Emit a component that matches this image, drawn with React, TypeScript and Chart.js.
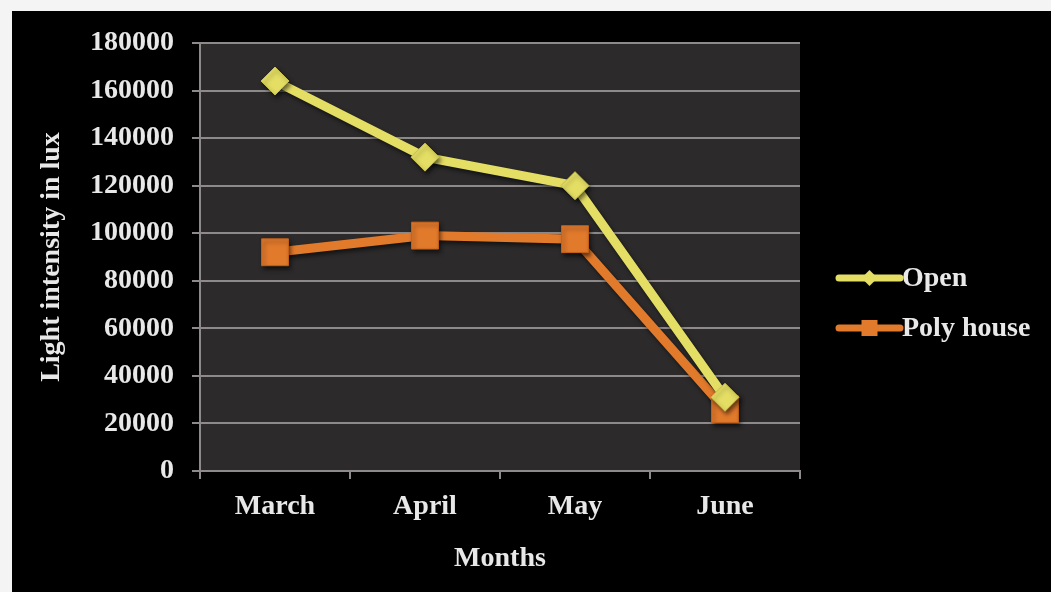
import React, { useEffect, useRef } from "react";
import { Chart, registerables } from "chart.js";

Chart.register(...registerables);

const months = ["March", "April", "May", "June"];
const openLux = [164000, 132000, 120000, 31000];
const polyHouseLux = [92000, 99000, 97500, 26000];
const yTicks = [0, 20000, 40000, 60000, 80000, 100000, 120000, 140000, 160000, 180000];

const OPEN_COLOR = "#e4de64";
const POLY_COLOR = "#e27a2c";
const TEXT_COLOR = "#e8e8e8";
const GRID_COLOR = "#8e8a8a";
const FONT_FAMILY = "'Liberation Serif', 'Times New Roman', serif";

// Dark panel behind the plotting area
const plotBackground = {
  id: "plotBackground",
  beforeDraw(chart: any) {
    const { ctx, chartArea } = chart;
    ctx.save();
    ctx.fillStyle = "#2c2a2a";
    ctx.fillRect(chartArea.left, chartArea.top, chartArea.right - chartArea.left, chartArea.bottom - chartArea.top);
    ctx.restore();
  },
};

// Soft drop shadow under the lines and markers
const markerShadow = {
  id: "markerShadow",
  beforeDatasetsDraw(chart: any) {
    const ctx = chart.ctx;
    ctx.save();
    ctx.shadowColor = "rgba(0,0,0,0.55)";
    ctx.shadowBlur = 4;
    ctx.shadowOffsetX = 2;
    ctx.shadowOffsetY = 3;
  },
  afterDatasetsDraw(chart: any) {
    chart.ctx.restore();
  },
};

// Legend on the right: a short line with the series marker and the label
const sideLegend = {
  id: "sideLegend",
  afterDraw(chart: any) {
    const { ctx } = chart;
    const x0 = 827;
    const x1 = 888;
    const rows = [267, 317];
    ctx.save();
    chart.data.datasets.forEach((ds: any, i: number) => {
      const y = rows[i];
      const color = ds.borderColor;
      ctx.strokeStyle = color;
      ctx.lineWidth = 7;
      ctx.lineCap = "round";
      ctx.beginPath();
      ctx.moveTo(x0, y);
      ctx.lineTo(x1, y);
      ctx.stroke();
      const cx = (x0 + x1) / 2;
      ctx.fillStyle = color;
      ctx.beginPath();
      if (ds.pointStyle === "rectRot") {
        const r = 8;
        ctx.moveTo(cx - r, y);
        ctx.lineTo(cx, y - r);
        ctx.lineTo(cx + r, y);
        ctx.lineTo(cx, y + r);
        ctx.closePath();
      } else {
        ctx.rect(cx - 8, y - 8, 16, 16);
      }
      ctx.fill();
      ctx.fillStyle = TEXT_COLOR;
      ctx.font = `bold 28px ${FONT_FAMILY}`;
      ctx.textAlign = "left";
      ctx.textBaseline = "middle";
      ctx.fillText(ds.label, x1 + 2, y + 1);
    });
    ctx.restore();
  },
};

export default function App() {
  const canvasRef = useRef<HTMLCanvasElement>(null);

  useEffect(() => {
    document.body.style.margin = "0";
    const canvas = canvasRef.current;
    if (!canvas) return;
    const chart = new Chart(canvas, {
      type: "line",
      data: {
        labels: months,
        datasets: [
          {
            label: "Open",
            data: openLux,
            borderColor: OPEN_COLOR,
            backgroundColor: OPEN_COLOR,
            borderWidth: 9,
            pointStyle: "rectRot",
            pointRadius: 14,
            pointBorderWidth: 1,
            pointBorderColor: "#c9c24a",
            pointBackgroundColor: OPEN_COLOR,
            tension: 0,
          },
          {
            label: "Poly house",
            data: polyHouseLux,
            borderColor: POLY_COLOR,
            backgroundColor: POLY_COLOR,
            borderWidth: 9,
            pointStyle: "rect",
            pointRadius: 19,
            pointBorderWidth: 1,
            pointBorderColor: "#c5621c",
            pointBackgroundColor: POLY_COLOR,
            tension: 0,
          },
        ],
      },
      options: {
        animation: false,
        responsive: false,
        maintainAspectRatio: false,
        layout: { padding: { left: 0, right: 251, top: 32, bottom: 0 } },
        plugins: {
          legend: { display: false },
          tooltip: { enabled: false },
        },
        scales: {
          x: {
            type: "category",
            offset: true,
            grid: {
              offset: true,
              drawOnChartArea: false,
              drawTicks: true,
              tickLength: 8,
              color: GRID_COLOR,
              lineWidth: 2,
            },
            border: { display: true, color: GRID_COLOR, width: 2 },
            ticks: {
              color: TEXT_COLOR,
              font: { family: FONT_FAMILY, size: 28, weight: "bold" },
              padding: 11,
              maxRotation: 0,
            },
            title: {
              display: true,
              text: "Months",
              color: TEXT_COLOR,
              font: { family: FONT_FAMILY, size: 28, weight: "bold" },
              padding: { top: 0, bottom: 16 },
            },
            afterFit(scale: any) {
              scale.height = 121;
            },
          },
          y: {
            min: 0,
            max: 180000,
            afterBuildTicks(scale: any) {
              scale.ticks = yTicks.map((v) => ({ value: v }));
            },
            grid: {
              color: GRID_COLOR,
              lineWidth: 2,
              drawTicks: true,
              tickLength: 8,
            },
            border: { display: true, color: GRID_COLOR, width: 2 },
            ticks: {
              color: TEXT_COLOR,
              font: { family: FONT_FAMILY, size: 28, weight: "bold" },
              padding: 18,
              callback: (v: any) => String(v),
            },
            title: {
              display: true,
              text: "Light intensity in lux",
              color: TEXT_COLOR,
              font: { family: FONT_FAMILY, size: 28, weight: "bold" },
              padding: { top: 23, bottom: 0 },
            },
            afterFit(scale: any) {
              scale.width = 188;
              scale.paddingTop = 0;
              scale.paddingBottom = 0;
            },
          },
        },
      },
      plugins: [plotBackground, markerShadow, sideLegend],
    });
    return () => chart.destroy();
  }, []);

  return (
    <div style={{ paddingLeft: 12, paddingTop: 11, background: "#f4f4f4", width: 1039, height: 581 }}>
      <canvas
        ref={canvasRef}
        width={1039}
        height={581}
        style={{ display: "block", background: "#000000", width: 1039, height: 581 }}
      />
    </div>
  );
}
